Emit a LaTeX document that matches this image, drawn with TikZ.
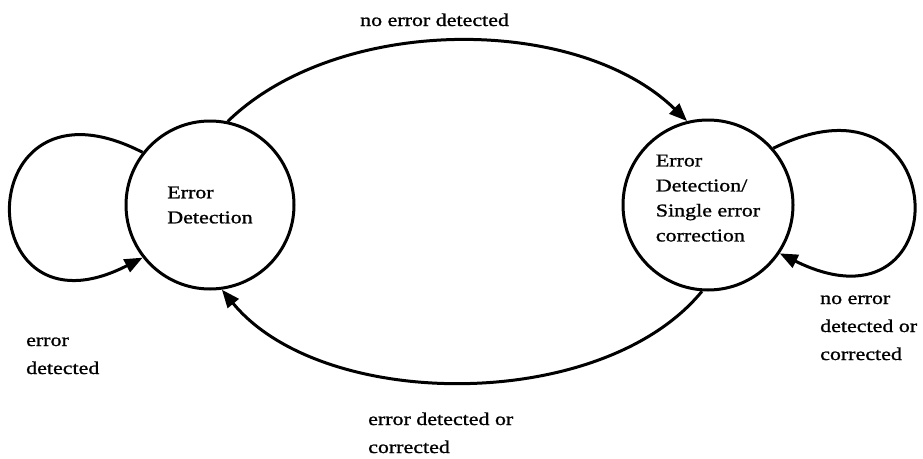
\documentclass[tikz,border=0pt]{standalone}
\usepackage{fontspec}
\setmainfont{Liberation Serif}[FakeStretch=1.22, FakeBold=1.2]
\usetikzlibrary{arrows.meta}

\tikzset{
  statenode/.style={circle, draw, line width=3pt, inner sep=0pt, align=left,
    font=\fontsize{18}{25}\selectfont},
  edge/.style={line width=3pt, -{Triangle[length=18pt, width=14pt]}},
  % base anchor of a multi-line label sits on its last line
  edgelabel/.style={align=left, anchor=base west, inner sep=0pt,
    font=\fontsize{18}{28}\selectfont}
}

\begin{document}
\begin{tikzpicture}[x=1pt, y=-1pt]
  \useasboundingbox (0,0) rectangle (923,458);

  % the two states
  \node[statenode, minimum size=168pt] (ed) at (210,205) {Error\\Detection};
  \node[statenode, minimum size=170pt, text depth=14pt] (sec) at (708,205)
    {Error\\Detection/\\Single error\\correction};

  % self loops
  \draw[edge] (ed.142) .. controls +(-175,-90) and +(-175,90) .. (ed.218);
  \draw[edge] (sec.41) .. controls +(182,-90) and +(182,90) .. (sec.-34);

  % transitions between the states
  \draw[edge] (ed.78) .. controls +(110,-107) and +(-110,-107) .. (sec.104);
  \draw[edge] (sec.266) .. controls +(-100,122) and +(100,122) .. (ed.278);

  % transition labels
  \node[edgelabel] (lnoerr) at (360,26) {no error detected};
  \node[edgelabel] (lerr) at (26,374) {error\\detected};
  \node[edgelabel] (lback) at (368,453) {error detected or\\corrected};
  \node[edgelabel] (lstay) at (820,360) {no error\\detected or\\corrected};
\end{tikzpicture}
\end{document}
